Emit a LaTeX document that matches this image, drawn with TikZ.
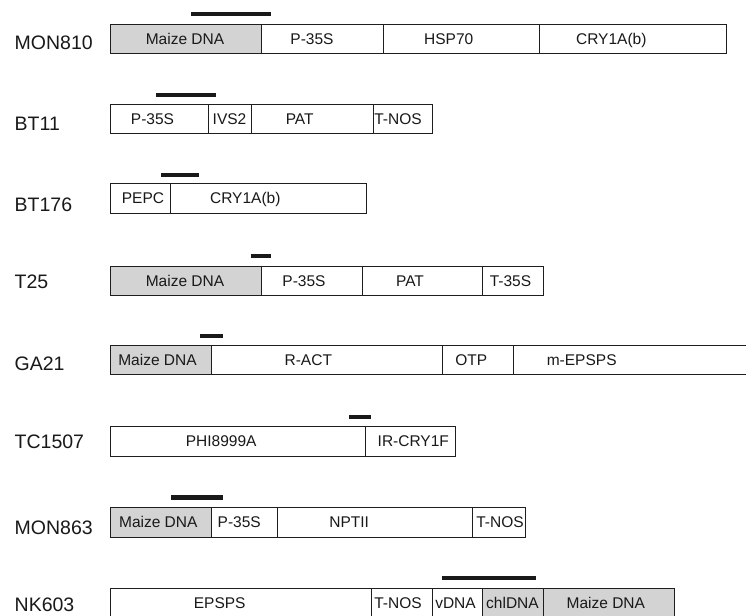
\documentclass[tikz,border=0pt]{standalone}
\usepackage{fontspec}
\setmainfont{Liberation Sans}
\definecolor{dnagray}{RGB}{211,211,211}
\definecolor{edgecol}{RGB}{30,30,30}
\tikzset{
 segbox/.style={rectangle, draw=edgecol, line width=1pt, inner sep=0pt, outer sep=0pt},
 segtext/.style={inner sep=0pt, anchor=base, font=\fontsize{15.5}{18}\selectfont, text=black!90},
 rowlabel/.style={inner sep=0pt, anchor=base west, font=\fontsize{19.5}{23}\selectfont, text=black!90},
 probebar/.style={rectangle, fill=black!90, inner sep=0pt, outer sep=0pt, minimum height=4.4pt},
}
% #1 name, #2 x1, #3 x2, #4 fill, #5 text centre x, #6 text
\newcommand\seg[6]{%
 \node[segbox, fill=#4, minimum width={(#3)-(#2)}, minimum height={\rowbot-\rowtop}] (#1) at ({((#2)+(#3))/2},{(\rowtop+\rowbot)/2}) {};
 \node[segtext] (#1t) at (#5,\rowbase) {#6};}
% #1 name, #2 x1, #3 x2, #4 y
\newcommand\probe[4]{\node[probebar, minimum width={(#3)-(#2)}] (#1) at ({((#2)+(#3))/2},#4) {};}
\begin{document}
\begin{tikzpicture}[x=1pt,y=-1pt]
\useasboundingbox (0,0) rectangle (746,615);
\fill[white] (0,0) rectangle (746,615);

% MON810
\def\rowtop{24.3}\def\rowbot{54}\def\rowbase{44.7}
\node[rowlabel] (lMON810) at (14.5,50) {MON810};
\seg{a1}{110}{261}{dnagray}{185}{Maize DNA}
\seg{a2}{261}{383}{white}{312}{P-35S}
\seg{a3}{383}{539}{white}{448.7}{HSP70}
\seg{a4}{539}{726.5}{white}{611.3}{CRY1A(b)}
\probe{pa}{191}{271}{13.8}

% BT11
\def\rowtop{105}\def\rowbot{133.5}\def\rowbase{124.8}
\node[rowlabel] (lBT11) at (14.5,130) {BT11};
\seg{b1}{110}{208}{white}{152.5}{P-35S}
\seg{b2}{208}{251}{white}{229.5}{IVS2}
\seg{b3}{251}{373}{white}{299.7}{PAT}
\seg{b4}{373}{432.3}{white}{398}{T-NOS}
\probe{pb}{156}{216}{95}

% BT176
\def\rowtop{183.3}\def\rowbot{213.3}\def\rowbase{203.8}
\node[rowlabel] (lBT176) at (14.5,211.7) {BT176};
\seg{c1}{110}{170}{white}{143}{PEPC}
\seg{c2}{170}{366.5}{white}{245.3}{CRY1A(b)}
\probe{pc}{161}{199}{175}

% T25
\def\rowtop{266}\def\rowbot{295}\def\rowbase{286}
\node[rowlabel] (lT25) at (14.5,288.3) {T25};
\seg{d1}{110}{261}{dnagray}{185}{Maize DNA}
\seg{d2}{261}{362}{white}{304}{P-35S}
\seg{d3}{362}{482.7}{white}{410}{PAT}
\seg{d4}{482.7}{543.3}{white}{510.5}{T-35S}
\probe{pd}{251}{271}{255.8}

% GA21
\def\rowtop{345.5}\def\rowbot{374.7}\def\rowbase{365.6}
\node[rowlabel] (lGA21) at (14.5,370) {GA21};
\seg{e1}{110}{211}{dnagray}{157.5}{Maize DNA}
\seg{e2}{211}{442.7}{white}{308.3}{R-ACT}
\seg{e3}{442.7}{513.3}{white}{471.3}{OTP}
\seg{e4}{513.3}{760}{white}{581.7}{m-EPSPS}
\probe{pe}{200}{223}{335.8}

% TC1507
\def\rowtop{426.7}\def\rowbot{456}\def\rowbase{446.9}
\node[rowlabel] (lTC1507) at (14.5,448.3) {TC1507};
\seg{f1}{110}{365}{white}{221.2}{PHI8999A}
\seg{f2}{365}{455.7}{white}{413.3}{IR-CRY1F}
\probe{pf}{349}{371}{416.8}

% MON863
\def\rowtop{507.3}\def\rowbot{537.3}\def\rowbase{527.8}
\node[rowlabel] (lMON863) at (14.5,534) {MON863};
\seg{g1}{110}{211}{dnagray}{158.3}{Maize DNA}
\seg{g2}{211}{277}{white}{239.2}{P-35S}
\seg{g3}{277}{472.7}{white}{349.2}{NPTII}
\seg{g4}{472.7}{525.7}{white}{500}{T-NOS}
\probe{pg}{171}{223}{497.5}

% NK603
\def\rowtop{588.3}\def\rowbot{630}\def\rowbase{608.5}
\node[rowlabel] (lNK603) at (14.5,611.7) {NK603};
\seg{h1}{110.5}{371.7}{white}{219.7}{EPSPS}
\seg{h2}{371.7}{432.7}{white}{398}{T-NOS}
\seg{h3}{432.7}{482.7}{white}{455.5}{vDNA}
\seg{h4}{482.7}{543.3}{dnagray}{512.5}{chlDNA}
\seg{h5}{543.3}{674}{dnagray}{605.8}{Maize DNA}
\probe{ph}{442.3}{535.7}{577.8}
\end{tikzpicture}
\end{document}
